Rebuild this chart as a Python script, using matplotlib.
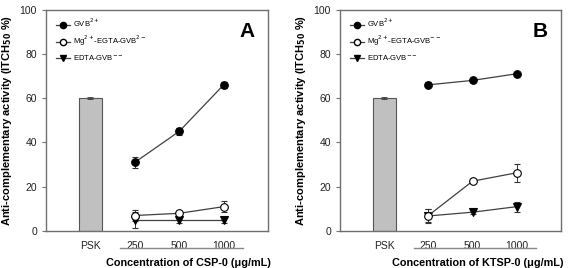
import matplotlib
matplotlib.use("Agg")
import matplotlib.pyplot as plt
from matplotlib.lines import Line2D

plt.rcParams['font.family'] = ['Liberation Sans', 'DejaVu Sans']

categories = ["PSK", "250", "500", "1000"]
psk_value = 60.0
psk_err = 0.4

# Panel A (CSP-0)
a_gvb = [31, 45, 66]
a_gvb_err = [2.5, 1.5, 1.5]
a_mg = [7, 8, 11]
a_mg_err = [2.5, 1.2, 2.5]
a_edta = [5, 5, 5]
a_edta_err = [3.8, 1.5, 1.5]

# Panel B (KTSP-0)
b_gvb = [66, 68, 71]
b_gvb_err = [1.2, 0.6, 0.6]
b_mg = [7, 22.5, 26.3]
b_mg_err = [3.0, 0.5, 4.0]
b_edta = [6.8, 8.5, 11]
b_edta_err = [3.0, 0.8, 2.2]

fig = plt.figure(figsize=(5.68, 2.68), dpi=100)

spine_c = '#707070'
line_c = '#404040'

def panel(rect, gvb, gvbe, mg, mge, edta, edtae, letter, xlabel, mg_label, xl_center):
    ax = fig.add_axes(rect)
    xs_bar = [1]
    xs = [2, 3, 4]
    ax.bar(xs_bar, [psk_value], width=0.52, color='#c0c0c0', edgecolor='#555555', linewidth=0.8,
           yerr=[psk_err], error_kw=dict(ecolor='#333333', capsize=2, elinewidth=0.6, capthick=0.6))
    common = dict(color=line_c, linewidth=0.9, capsize=2.2, elinewidth=0.7, capthick=0.7, ms=5.5, mew=0.8)
    ax.errorbar(xs, edta, yerr=edtae, fmt='-v', mfc='black', mec='black', ecolor='#333333', **common)
    ax.errorbar(xs, mg, yerr=mge, fmt='-o', mfc='white', mec='black', ecolor='#333333', **common)
    ax.errorbar(xs, gvb, yerr=gvbe, fmt='-o', mfc='black', mec='black', ecolor='#333333', **common)
    ax.set_xlim(0, 5)
    ax.set_ylim(0, 100)
    ax.set_xticks([1, 2, 3, 4])
    ax.set_xticklabels(categories, fontsize=7.5, color='#222222')
    ax.tick_params(axis='x', length=0, pad=7)
    ax.set_yticks([0, 20, 40, 60, 80, 100])
    ax.tick_params(axis='y', labelsize=7.5, length=3, width=0.8, color=spine_c, direction='out', labelcolor='#222222')
    for s in ax.spines.values():
        s.set_color(spine_c)
        s.set_linewidth(1.0)
    ax.set_ylabel(r'Anti-complementary activity (ITCH$_{\mathbf{50}}$ %)', fontsize=8, fontweight='bold')
    ax.text(0.94, 0.9, letter, transform=ax.transAxes, fontsize=15, fontweight='bold', ha='right', va='center')
    # legend
    handles = [
        Line2D([], [], color=line_c, lw=0.9, marker='o', mfc='black', mec='black', ms=4.5),
        Line2D([], [], color=line_c, lw=0.9, marker='o', mfc='white', mec='black', ms=4.5),
        Line2D([], [], color=line_c, lw=0.9, marker='v', mfc='black', mec='black', ms=4.5),
    ]
    labels = [r'GVB$^{2+}$', mg_label, r'EDTA-GVB$^{--}$']
    ax.legend(handles, labels, loc='upper left', bbox_to_anchor=(0.02, 0.99), frameon=False,
              fontsize=5.5, handlelength=1.8, handletextpad=0.5, labelspacing=0.6, borderaxespad=0.3)
    # underline
    ax.plot([0.333, 0.887], [-0.077, -0.077], transform=ax.transAxes, color='#888888', lw=1.0, clip_on=False)
    ax.text(xl_center, -0.145, xlabel, transform=ax.transAxes, ha='center', va='center',
            fontsize=7.8, fontweight='bold')
    return ax

panel([0.081, 0.138, 0.391, 0.8265], a_gvb, a_gvb_err, a_mg, a_mg_err, a_edta, a_edta_err, 'A',
      'Concentration of CSP-0 (\u03bcg/mL)', r'Mg$^{2+}$-EGTA-GVB$^{2-}$', 0.64)
panel([0.5986, 0.138, 0.389, 0.8265], b_gvb, b_gvb_err, b_mg, b_mg_err, b_edta, b_edta_err, 'B',
      'Concentration of KTSP-0 (\u03bcg/mL)', r'Mg$^{2+}$-EGTA-GVB$^{--}$', 0.625)

fig.savefig('out.png', dpi=100)
